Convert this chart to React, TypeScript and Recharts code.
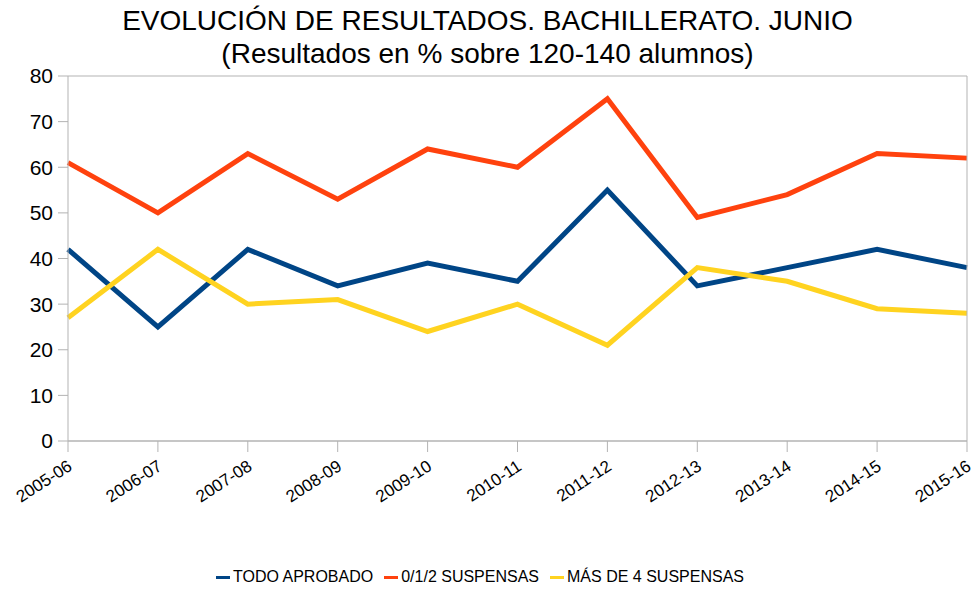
import React from "react";
import { LineChart, Line, XAxis, YAxis, CartesianGrid, Legend } from "recharts";

const categories = ["2005-06", "2006-07", "2007-08", "2008-09", "2009-10", "2010-11", "2011-12", "2012-13", "2013-14", "2014-15", "2015-16"];
const todoAprobado = [42, 25, 42, 34, 39, 35, 55, 34, 38, 42, 38];
const suspensas012 = [61, 50, 63, 53, 64, 60, 75, 49, 54, 63, 62];
const masDe4 = [27, 42, 30, 31, 24, 30, 21, 38, 35, 29, 28];
const yTicks = [0, 10, 20, 30, 40, 50, 60, 70, 80];

const seriesNames = ["TODO APROBADO", "0/1/2 SUSPENSAS", "MÁS DE 4 SUSPENSAS"];
const colors = ["#004586", "#ff420e", "#ffd320"];

const data = categories.map((c, i) => ({
  name: c,
  a: todoAprobado[i],
  b: suspensas012[i],
  c: masDe4[i],
}));

const FONT = "'Liberation Sans', Arial, sans-serif";

const XTick = (props: any) => {
  const { x, y, payload } = props;
  return (
    <g transform={`translate(${x + 2},${y + 10})`}>
      <text
        textAnchor="end"
        transform="rotate(-33)"
        fontFamily={FONT}
        fontSize={17}
        fill="#000"
        dy={6}
      >
        {payload.value}
      </text>
    </g>
  );
};

const LegendContent = () => (
  <div
    style={{
      display: "flex",
      justifyContent: "center",
      alignItems: "center",
      fontFamily: FONT,
      fontSize: 16,
      color: "#000",
      paddingLeft: 0,
      height: 30,
    }}
  >
    {seriesNames.map((n, i) => (
      <div key={n} style={{ display: "flex", alignItems: "center", marginRight: i < 2 ? 11 : 0 }}>
        <div style={{ width: 14, height: 3, background: colors[i], marginRight: 3 }} />
        <span>{n}</span>
      </div>
    ))}
  </div>
);

export default function App() {
  return (
    <div style={{ position: "absolute", left: 0, top: 0, width: 971, height: 592, background: "#fff" }}>
      <div
        style={{
          position: "absolute",
          left: 0,
          top: 4,
          width: 975,
          textAlign: "center",
          fontFamily: FONT,
          fontSize: 28,
          lineHeight: "33px",
          color: "#000",
        }}
      >
        <div>EVOLUCIÓN DE RESULTADOS. BACHILLERATO. JUNIO</div>
        <div>(Resultados en % sobre 120-140 alumnos)</div>
      </div>
      <LineChart width={971} height={592} data={data} margin={{ top: 76, right: 0, left: 0, bottom: 0 }}>
        <CartesianGrid vertical={false} stroke="#b3b3b3" strokeWidth={1} />
        <XAxis
          dataKey="name"
          height={121}
          interval={0}
          tick={<XTick />}
          tickSize={11}
          tickLine={{ stroke: "#b3b3b3" }}
          axisLine={{ stroke: "#b3b3b3" }}
        />
        <YAxis
          yAxisId="left"
          width={68}
          domain={[0, 80]}
          ticks={yTicks}
          interval={0}
          tickSize={10}
          tickMargin={5}
          tickLine={{ stroke: "#b3b3b3" }}
          axisLine={{ stroke: "#b3b3b3" }}
          tick={{ fontFamily: FONT, fontSize: 21, fill: "#000" }}
        />
        <YAxis
          yAxisId="right"
          orientation="right"
          width={4}
          domain={[0, 80]}
          tick={false}
          tickLine={false}
          axisLine={{ stroke: "#b3b3b3" }}
        />
        <Line yAxisId="left" dataKey="a" name={seriesNames[0]} stroke={colors[0]} strokeWidth={5} dot={false} isAnimationActive={false} strokeLinejoin="miter" />
        <Line yAxisId="left" dataKey="b" name={seriesNames[1]} stroke={colors[1]} strokeWidth={5} dot={false} isAnimationActive={false} strokeLinejoin="miter" />
        <Line yAxisId="left" dataKey="c" name={seriesNames[2]} stroke={colors[2]} strokeWidth={5} dot={false} isAnimationActive={false} strokeLinejoin="miter" />
        <Legend verticalAlign="bottom" height={30} content={<LegendContent />} wrapperStyle={{ left: 0, width: 960 }} />
      </LineChart>
    </div>
  );
}
